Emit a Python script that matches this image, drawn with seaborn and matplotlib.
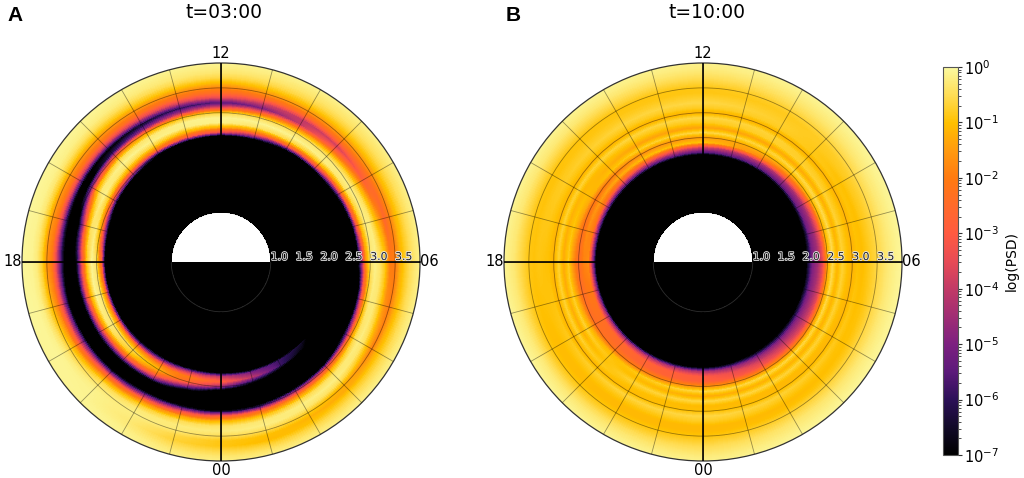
'''Two polar PSD maps (MLT vs L) with a shared log colour bar'''

import numpy as np
import matplotlib
matplotlib.use('Agg')
import matplotlib.pyplot as plt
import matplotlib.patheffects as pe
from matplotlib.colors import LogNorm, LinearSegmentedColormap

import seaborn as sns

# radial nodes for the tables below, 2.0 to 4.0
L_nodes = [2.0, 2.1, 2.2, 2.3, 2.4, 2.5, 2.6, 2.7, 2.8, 2.9, 3.0, 3.1, 3.2, 3.3, 3.4, 3.5, 3.6, 3.7, 3.8, 3.9, 4.0]

mlt_a = list(range(24))
mlt_b = list(range(0, 24, 2))

# log10(PSD), one row per MLT, one column per L node
# values under -7 only push the edge of the black zone around
psd_a = [
    [-9, -9, -8, -4, -2.8, -4.5, -8, -9, -9, -9, -6.5, -2.8, -1.1, -0.4, -0.25, -0.5, -0.9, -0.9, -0.6, -0.35, -0.2],
    [-9, -9, -9, -5, -4, -6.5, -9, -9, -9, -9, -6, -2.5, -1, -0.3, -0.2, -0.5, -1, -1.1, -0.7, -0.4, -0.2],
    [-9, -9, -9, -5.8, -5.8, -8, -9, -9, -9, -9, -4.5, -1.8, -0.6, -0.2, -0.3, -0.8, -1.2, -1, -0.6, -0.35, -0.2],
    [-9, -9, -9, -6.5, -7, -9, -9, -9, -9, -8, -3.2, -1.2, -0.35, -0.2, -0.5, -1.3, -1.3, -0.8, -0.5, -0.3, -0.15],
    [-9, -9, -9, -9, -9, -9, -9, -9, -9, -5.5, -1.8, -0.5, -0.2, -0.4, -1.1, -1.9, -1.2, -0.8, -0.5, -0.3, -0.15],
    [-9, -9, -9, -9, -9, -9, -9, -9, -8.5, -3.5, -0.9, -0.25, -0.3, -0.8, -1.6, -2, -1.3, -0.85, -0.5, -0.3, -0.15],
    [-9, -9, -9, -9, -9, -9, -9, -9, -5.5, -1.8, -0.4, -0.15, -0.4, -0.9, -2, -2, -1.2, -0.8, -0.5, -0.3, -0.15],
    [-9, -9, -9, -9, -9, -9, -9, -8.5, -3.5, -1, -0.2, -0.25, -0.9, -1.6, -2.6, -1.9, -1.2, -0.8, -0.5, -0.3, -0.15],
    [-9, -9, -9, -9, -9, -9, -9, -6, -2, -0.4, -0.15, -0.6, -1.5, -2.8, -2.4, -1.7, -1.1, -0.7, -0.45, -0.3, -0.15],
    [-9, -9, -9, -9, -9, -9, -8.5, -3.5, -1, -0.2, -0.25, -1, -2.6, -3.8, -2.4, -1.6, -1, -0.65, -0.4, -0.28, -0.15],
    [-9, -9, -9, -9, -9, -9, -7, -2.5, -0.6, -0.12, -0.4, -1.7, -4, -4, -2.4, -1.6, -1, -0.6, -0.38, -0.25, -0.12],
    [-9, -9, -9, -9, -9, -9, -5, -1.9, -0.4, -0.1, -0.5, -2.4, -5, -3.8, -2.4, -1.6, -1, -0.6, -0.36, -0.22, -0.12],
    [-9, -9, -9, -9, -9, -9, -3.5, -1.3, -0.15, -0.1, -0.6, -3.3, -5.5, -3.5, -2.4, -1.8, -1.1, -0.6, -0.35, -0.2, -0.1],
    [-9, -9, -9, -9, -9, -8, -3, -1.2, -0.2, -0.15, -0.9, -4, -6, -3.8, -2.4, -1.7, -1, -0.55, -0.3, -0.2, -0.1],
    [-9, -9, -9, -9, -9, -7, -2.2, -0.7, -0.15, -0.3, -1.4, -5, -6.5, -3.8, -2.3, -1.6, -0.9, -0.5, -0.25, -0.15, -0.1],
    [-9, -9, -9, -9, -9, -4.5, -1.5, -0.4, -0.12, -0.5, -2.2, -6, -7, -3.8, -2.2, -1.6, -0.9, -0.45, -0.2, -0.12, -0.08],
    [-9, -9, -9, -9, -7.5, -3, -0.8, -0.15, -0.3, -1.3, -4.5, -7.5, -7, -3.8, -2.1, -1.6, -0.8, -0.35, -0.15, -0.1, -0.06],
    [-9, -9, -9, -9, -5, -1.3, -0.25, -0.4, -1.8, -5, -8, -8, -6.5, -3.8, -2, -1.6, -0.75, -0.3, -0.12, -0.08, -0.05],
    [-9, -9, -9, -9, -2.5, -0.4, -0.1, -0.9, -3.3, -6.5, -8, -8, -6, -3.8, -2, -1.6, -0.7, -0.25, -0.1, -0.08, -0.05],
    [-9, -9, -9, -8, -2, -0.3, -0.1, -1.1, -3.5, -7, -9, -9, -6, -3.5, -1.9, -1.2, -0.6, -0.2, -0.08, -0.06, -0.05],
    [-9, -9, -9, -7, -1.8, -0.3, -0.3, -1.6, -4.5, -8, -9, -8, -5, -2.8, -1.4, -0.7, -0.3, -0.12, -0.08, -0.08, -0.1],
    [-9, -9, -9, -6, -1.8, -0.5, -0.9, -2.6, -6, -9, -9, -6.5, -3.2, -1.5, -0.6, -0.3, -0.15, -0.12, -0.12, -0.1, -0.1],
    [-9, -9, -9, -5, -1.9, -1.1, -2.2, -4.5, -8, -9, -7.5, -4.5, -2, -0.8, -0.3, -0.2, -0.25, -0.3, -0.25, -0.15, -0.12],
    [-9, -9, -8, -4, -2, -2.6, -5, -8, -9, -9, -6.5, -3.5, -1.4, -0.5, -0.25, -0.3, -0.6, -0.7, -0.5, -0.3, -0.18],
]

psd_b = [
    [-9, -7.5, -4.2, -3, -2.8, -1.6, -0.6, -1.3, -0.6, -1.1, -1, -0.6, -0.8, -1.1, -1.1, -0.95, -0.75, -0.55, -0.4, -0.25, -0.15],
    [-9, -7, -4.8, -3.8, -3.2, -1.7, -0.6, -1.2, -0.65, -1.1, -1.1, -0.7, -0.9, -1.1, -1, -0.75, -0.55, -0.35, -0.25, -0.15, -0.08],
    [-9, -6.8, -5, -4.3, -3.6, -1.8, -0.6, -1.2, -0.7, -1.05, -1.15, -0.85, -1, -1, -0.85, -0.65, -0.5, -0.32, -0.2, -0.12, -0.06],
    [-9, -6.5, -5, -4.5, -3.5, -1.3, -0.55, -1.15, -0.7, -1, -1.2, -1, -1.05, -0.9, -0.75, -0.6, -0.45, -0.3, -0.2, -0.12, -0.05],
    [-9, -7.5, -5.2, -4.5, -3, -1.1, -0.55, -1.25, -0.7, -0.9, -1.2, -0.95, -1, -0.85, -0.75, -0.6, -0.45, -0.3, -0.2, -0.12, -0.07],
    [-9, -9, -5.5, -4.3, -1.8, -1.2, -0.65, -1.35, -0.75, -0.7, -1.2, -0.8, -0.75, -0.8, -0.85, -0.75, -0.55, -0.4, -0.28, -0.18, -0.1],
    [-9, -9, -5.5, -3.8, -0.95, -1.5, -0.6, -1.4, -0.85, -0.6, -1.2, -0.8, -0.6, -0.75, -0.9, -0.9, -0.7, -0.5, -0.35, -0.22, -0.15],
    [-9, -9, -5.5, -3, -1, -1.7, -0.75, -1.4, -0.95, -0.65, -1.2, -0.85, -0.65, -0.8, -0.9, -0.95, -0.7, -0.5, -0.32, -0.2, -0.12],
    [-9, -9, -5.2, -2.2, -1.5, -2.2, -1.2, -1.05, -1.15, -0.7, -1.2, -0.95, -0.8, -0.85, -0.95, -0.95, -0.72, -0.5, -0.3, -0.2, -0.1],
    [-9, -9, -5, -1.7, -1.9, -2.5, -1.7, -0.8, -1.3, -0.7, -1.2, -1, -0.95, -0.9, -0.95, -0.9, -0.7, -0.5, -0.3, -0.2, -0.1],
    [-9, -9, -4.5, -2.4, -2.3, -2.4, -1.3, -0.7, -1.25, -0.7, -1.2, -0.85, -0.95, -1.05, -1.05, -0.95, -0.7, -0.45, -0.25, -0.15, -0.08],
    [-9, -8, -4.2, -2.7, -2.7, -2, -0.85, -1.1, -0.7, -1, -1.1, -0.65, -0.9, -1.1, -1.1, -0.95, -0.75, -0.5, -0.32, -0.2, -0.1],
]

titles = ['t=03:00', 't=10:00']
letters = ['A', 'B']
hour_labels = ['06', '12', '18', '00']
L_ticks = [1.0, 1.5, 2.0, 2.5, 3.0, 3.5]
cbar_exponents = [0, -1, -2, -3, -4, -5, -6, -7]

# inferno as it looks in the reference colour bar, a bit more saturated, bottom to top
bar_colours = ['#000000', '#120a28', '#2c1058', '#5c1a7a', '#7d2080', '#a02d74', '#c23a66', '#e84b55',
               '#ff5a40', '#ff6a2a', '#ff7a10', '#ff9a0f', '#ffc000', '#ffdd55', '#fbf9a0']

sns.set_theme(style='white')
plt.rcParams['font.family'] = ['DejaVu Sans']
plt.rcParams['text.color'] = 'black'
plt.rcParams['xtick.color'] = 'black'
plt.rcParams['ytick.color'] = 'black'
plt.rcParams['axes.labelcolor'] = 'black'

cmap = LinearSegmentedColormap.from_list('psd', bar_colours, N=512)
norm = LogNorm(vmin=1e-7, vmax=1)


def smooth_field(mlt, table):
    '''table on a fine theta/L grid so the rings come out round, black inside L=2'''
    table = np.array(table, dtype=float)
    r_fine = np.arange(1.0, 4.005, 0.01)
    hours_fine = np.arange(0, 24.01, 0.05)
    nodes = np.array(L_nodes)
    by_r = np.array([np.interp(r_fine, nodes, row, left=-9) for row in table])
    field = np.array([np.interp(hours_fine, mlt, col, period=24) for col in by_r.T])
    theta = np.deg2rad((hours_fine - 6) * 15)
    return theta, r_fine, 10.0 ** field


def draw_panel(ax, mlt, table, title, title_x):
    theta, r, field = smooth_field(mlt, table)
    mesh = ax.pcolormesh(theta, r, field, cmap=cmap, norm=norm, shading='nearest', rasterized=True)

    # night side of the earth
    ax.bar(-np.pi / 2, 1.0, width=np.pi, bottom=0, color='black', linewidth=0, zorder=1.5)
    ax.plot(np.linspace(np.pi, 2 * np.pi, 90), np.ones(90), color='#2e2e2e', linewidth=0.6, zorder=3)

    hours = np.arange(24)
    ax.vlines(np.deg2rad(hours * 15), 1.0, 4.0, color='black', linewidth=0.6, alpha=0.4, zorder=3)
    ax.vlines(np.deg2rad(np.arange(4) * 90), 1.0, 4.0, color='black', linewidth=1.2, zorder=3.1)

    ax.set_ylim(0, 4)
    ax.set_xticks(np.deg2rad(np.arange(4) * 90))
    ax.set_xticklabels(hour_labels, fontsize=10.5)
    ax.tick_params(axis='x', pad=-6)
    ax.xaxis.grid(False)

    ax.set_rlabel_position(0)
    ax.set_yticks(L_ticks)
    ax.set_yticklabels(['%.1f' % v for v in L_ticks], fontsize=7.8, color='#222222')
    ax.tick_params(axis='y', pad=0)
    ax.yaxis.grid(True, color='black', linewidth=0.6, alpha=0.4)
    ax.set_axisbelow(False)
    for lab in ax.get_yticklabels():
        lab.set_path_effects([pe.withStroke(linewidth=1.2, foreground='#e8e8e8')])
        lab.set_zorder(5)

    ax.spines['polar'].set_linewidth(0.9)
    ax.spines['polar'].set_color('#333333')
    ax.set_title(title, fontsize=13.5, pad=32.5, x=title_x)
    return mesh


fig = plt.figure(figsize=(10.24, 4.78), dpi=100)

W, H = 1024.0, 478.0
ax_a = fig.add_axes([22 / W, (H - 461) / H, 398 / W, 398 / H], projection='polar')
ax_b = fig.add_axes([504 / W, (H - 461) / H, 398 / W, 398 / H], projection='polar')

mesh_a = draw_panel(ax_a, mlt_a, psd_a, titles[0], 0.508)
mesh_b = draw_panel(ax_b, mlt_b, psd_b, titles[1], 0.51)

fig.text(7 / W, 1 - 21 / H, letters[0], fontsize=15, fontweight='bold', family='Liberation Sans')
fig.text(506 / W, 1 - 21 / H, letters[1], fontsize=15, fontweight='bold', family='Liberation Sans')

cax = fig.add_axes([943 / W, (H - 455) / H, 15 / W, 388 / H])
cbar = fig.colorbar(mesh_b, cax=cax)
cbar.set_ticks([10.0 ** e for e in cbar_exponents])
cbar.ax.tick_params(which='major', length=3, width=0.8, labelsize=10.5, pad=1, right=True, color='#333333')
cbar.ax.tick_params(which='minor', length=1.8, width=0.6, right=True, color='#333333')
cbar.outline.set_linewidth(0.8)
cbar.outline.set_edgecolor('#555555')
cbar.set_label('log(PSD)', fontsize=10, labelpad=4)

fig.savefig('out.png', dpi=100)
